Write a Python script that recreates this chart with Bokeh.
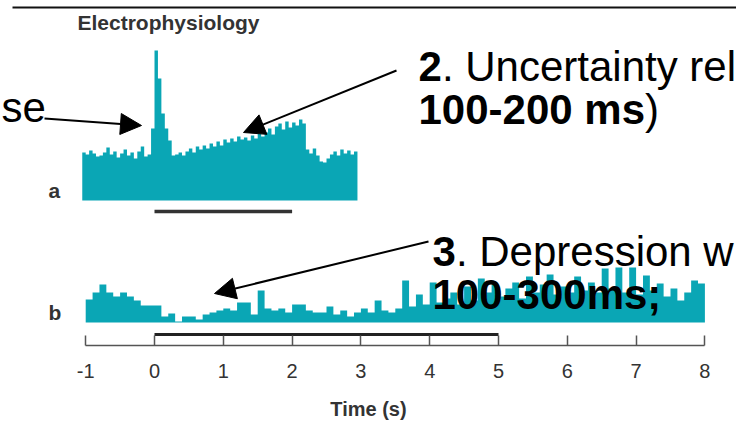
from bokeh.plotting import figure
from bokeh.models import Range1d, Label, Arrow, NormalHead, FixedTicker
from bokeh.embed import file_html
from bokeh.resources import INLINE

# ---------------- data ----------------
# Panel a: firing rate (spikes/s), 50 ms bins starting at -1.05 s
a_bin_start = -1.05
a_bin_width = 0.05
a_rates = [
    9.6, 9.2, 10.0, 9.4, 8.8, 9.0, 9.6, 10.6, 9.2, 9.8,
    8.6, 9.4, 10.2, 9.0, 9.6, 8.4, 9.8, 10.8, 8.8, 9.2,
    14.4, 30.0, 24.4, 17.4, 14.4, 12.0, 9.0,
    9.2, 9.6, 9.0, 9.8, 10.4, 9.6, 10.8, 10.2, 11.0, 10.4,
    11.4, 10.8, 11.8, 11.0, 12.2, 11.6, 12.4, 11.8, 12.8, 12.2,
    12.6, 12.0, 13.0, 12.4, 13.4, 12.8, 13.6, 14.4, 13.2, 14.8,
    15.4, 14.2, 15.8, 14.6, 15.6, 15.0, 16.2,
    15.4, 10.2,
    9.4, 10.4, 9.0, 7.8, 7.6, 8.4, 9.2, 9.8, 9.0, 10.2, 9.4, 10.0, 9.2, 9.8,
]

# Panel b: firing rate (spikes/s), 100 ms bins starting at -1 s
b_bin_start = -1.0
b_bin_width = 0.1
b_rates = [
    11.5, 15.0, 19.0, 15.0, 13.0, 15.0, 13.0, 11.0, 8.5, 8.5,
    8.5, 3.0, 4.5, 0.5, 3.0, 3.0, 1.5, 4.0, 5.0, 6.0,
    7.0, 6.0, 10.0, 10.0, 4.0, 16.0, 7.0, 6.0, 7.0, 5.0,
    9.0, 9.0, 6.0, 5.0, 5.0, 8.0, 4.0, 6.0, 3.0, 5.0,
    7.0, 5.0, 11.0, 6.0, 5.0, 7.0, 21.0, 8.0, 14.0, 9.0,
    20.0, 10.0, 12.0, 15.0, 9.0, 18.0, 11.0, 22.0, 15.0, 19.0,
    13.0, 17.0, 20.0, 12.0, 23.0, 15.0, 19.0, 24.0, 14.0, 18.0,
    15.0, 23.0, 16.0, 20.0, 15.0, 27.0, 17.0, 27.5, 15.0, 27.5,
    14.0, 23.5, 16.0, 19.5, 13.0, 17.0, 11.0, 15.0, 21.0, 19.5,
]

stim_a = (0.0, 2.0)   # stimulus period under panel a (s)
stim_b = (0.0, 5.0)   # stimulus period under panel b (s)
time_ticks = [-1, 0, 1, 2, 3, 4, 5, 6, 7, 8]

# ---------------- layout ----------------
W, H = 736, 425
FRAME_H = 345
PX_PER_S = 68.8
T0_PX = 154.0
A_BASE, A_SCALE = 200.0, 5.0
B_BASE, B_SCALE = 322.0, 2.0

TEAL = "#0aa6b5"
FONT = "Liberation Sans"


def fx(px):
    return (px - T0_PX) / PX_PER_S


def fa(py):
    return (A_BASE - py) / A_SCALE


def fb(py):
    return (B_BASE - py) / B_SCALE


p = figure(
    width=W, height=H,
    x_range=Range1d(fx(0), fx(W)),
    y_range=Range1d(fa(FRAME_H), fa(0)),
    output_backend="svg", toolbar_location=None,
    y_axis_location=None,
    min_border_left=0, min_border_right=0, min_border_top=0,
    min_border_bottom=H - FRAME_H,
    outline_line_color=None,
    background_fill_color="white", border_fill_color="white",
)
p.extra_y_ranges = {"b": Range1d(fb(FRAME_H), fb(0))}
p.grid.visible = False

# histograms drawn as step areas
a_edges = [a_bin_start + i * a_bin_width for i in range(len(a_rates) + 1)]
p.varea_step(x=a_edges, y1=[0] * len(a_edges), y2=a_rates + [a_rates[-1]],
             step_mode="after", fill_color=TEAL)

b_edges = [b_bin_start + i * b_bin_width for i in range(len(b_rates) + 1)]
p.varea_step(x=b_edges, y1=[0] * len(b_edges), y2=b_rates + [b_rates[-1]],
             step_mode="after", fill_color=TEAL, y_range_name="b")

# stimulus bars
p.segment(x0=[stim_a[0]], x1=[stim_a[1]], y0=[fa(211)], y1=[fa(211)],
          line_color="#333333", line_width=3.5)
p.segment(x0=[stim_b[0]], x1=[stim_b[1]], y0=[fb(334)], y1=[fb(334)],
          line_color="#222222", line_width=3, y_range_name="b")

# header rule
p.segment(x0=[fx(12)], x1=[fx(W)], y0=[fa(7)], y1=[fa(7)],
          line_color="#111111", line_width=2)

# time axis
ax = p.xaxis[0]
ax.ticker = FixedTicker(ticks=time_ticks)
ax.major_label_overrides = {t: str(t) for t in time_ticks}
ax.bounds = (time_ticks[0], time_ticks[-1])
ax.major_tick_in = 10
ax.major_tick_out = 0
ax.minor_tick_line_color = None
ax.axis_line_color = "#555555"
ax.axis_line_width = 1.5
ax.major_tick_line_color = "#555555"
ax.major_tick_line_width = 1.5
ax.major_label_text_font = FONT
ax.major_label_text_font_size = "20px"
ax.major_label_text_color = "#333333"
ax.major_label_standoff = 18
ax.axis_label = "Time (s)"
ax.axis_label_text_font = FONT
ax.axis_label_text_font_size = "20px"
ax.axis_label_text_font_style = "bold"
ax.axis_label_text_color = "#333333"
ax.axis_label_standoff = 17


def add_text(text, px, py, size="42px", style="normal", color="black",
             align="left"):
    p.add_layout(Label(x=fx(px), y=fa(py), text=text, text_font=FONT,
                       text_font_size=size, text_font_style=style,
                       text_color=color, text_align=align,
                       text_baseline="alphabetic"))


# panel titles / letters
add_text("Electrophysiology", 77, 22, size="21px", style="bold", color="#333333")
add_text("a", 48, 190, size="21px", style="bold", color="#333333")
add_text("b", 48, 312, size="21px", style="bold", color="#333333")

# annotation texts
add_text("se", 1, 107)
add_text("2", 418, 66, style="bold")
add_text(". Uncertainty rel", 441.4, 66)
add_text("100-200 ms", 418, 109, style="bold")
add_text(")", 644.5, 109)
add_text("3", 432, 251, style="bold")
add_text(". Depression w", 455.4, 251)
add_text("100-300ms;", 432, 294, style="bold")


def add_arrow(x0, y0, x1, y1):
    p.add_layout(Arrow(end=NormalHead(size=21, fill_color="black",
                                      line_color="black", line_width=1),
                       x_start=fx(x0), y_start=fa(y0),
                       x_end=fx(x1), y_end=fa(y1),
                       line_color="black", line_width=2))


add_arrow(44, 118, 141, 125)
add_arrow(396, 70, 243, 132)
add_arrow(428, 241, 214, 293)

open("out.html", "w").write(file_html(p, INLINE))
